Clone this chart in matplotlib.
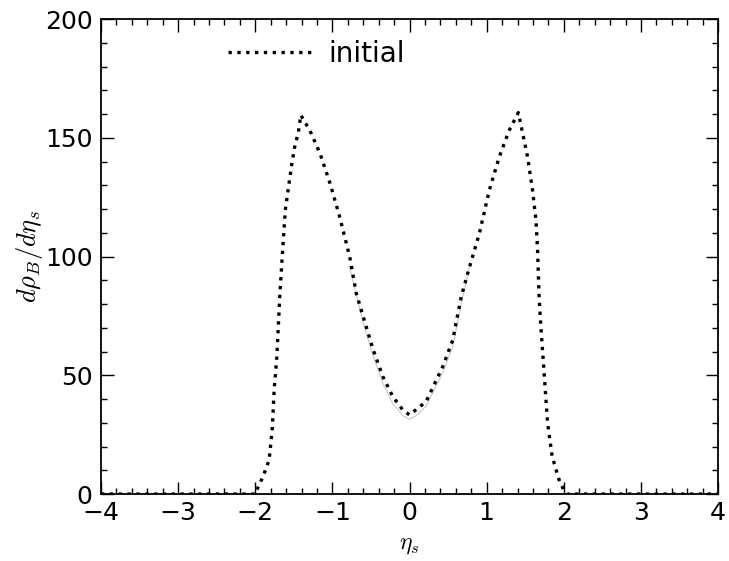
import matplotlib
matplotlib.use("Agg")
import matplotlib.pyplot as plt
from matplotlib.ticker import MultipleLocator

plt.rcParams['mathtext.fontset'] = 'cm'
plt.rcParams['font.family'] = ['DejaVu Sans']

# initial baryon rapidity distribution
eta_init = [-4.0, -2.0, -1.98, -1.90, -1.82, -1.78, -1.755, -1.72, -1.68, -1.65,
            -1.63, -1.61, -1.57, -1.53, -1.49, -1.44, -1.41, -1.29, -1.16, -1.03,
            -0.906, -0.776, -0.69, -0.60, -0.47, -0.345, -0.216, -0.087, 0.0,
            0.215, 0.43, 0.56, 0.67, 0.755, 0.906, 1.035, 1.164, 1.29, 1.41,
            1.466, 1.53, 1.595, 1.64, 1.66, 1.68, 1.70, 1.745, 1.79, 1.85, 1.94,
            2.0, 2.04, 4.0]
rho_init = [0.0, 0.0, 1.7, 7.3, 14.3, 27.0, 43.8, 57.8, 84.5, 100.0,
            110.0, 119.6, 129.0, 138.0, 146.0, 152.5, 159.6, 153.0, 143.4, 130.8,
            116.8, 100.0, 84.5, 74.6, 60.6, 49.4, 41.0, 35.4, 33.3,
            38.9, 53.6, 64.8, 83.0, 93.0, 109.8, 128.0, 142.0, 153.0, 160.6,
            152.0, 142.0, 128.0, 115.0, 102.7, 83.0, 71.9, 50.8, 29.8, 15.7, 5.9,
            1.7, 0.0, 0.0]

# faint evolved curve near the centre
eta_final = [-0.78, -0.6, -0.47, -0.345, -0.216, -0.087, 0.0, 0.087, 0.215, 0.43, 0.56, 0.67, 0.78]
rho_final = [96.0, 72.0, 58.0, 46.5, 38.0, 33.0, 31.5, 33.0, 37.0, 51.0, 62.0, 80.0, 96.0]

x_ticks = [-4, -3, -2, -1, 0, 1, 2, 3, 4]
y_ticks = [0, 50, 100, 150, 200]

fig = plt.figure(figsize=(7.29, 5.61), dpi=100)
ax = fig.add_axes([0.1385, 0.1194, 0.8465, 0.8466])

ax.plot(eta_final, rho_final, color='#c8c8c8', lw=0.8)
ax.plot(eta_init, rho_init, color='black', lw=2.4, ls=':', label='initial')

ax.set_xlim(-4, 4)
ax.set_ylim(0, 200)
ax.set_xticks(x_ticks)
ax.set_yticks(y_ticks)
ax.set_xticklabels([f"{t}".replace('-', '\u2212') for t in x_ticks])
ax.xaxis.set_minor_locator(MultipleLocator(0.2))
ax.yaxis.set_minor_locator(MultipleLocator(10))
ax.tick_params(which='both', direction='in', top=True, right=True, labelsize=18)
ax.tick_params(axis='x', pad=5)
ax.tick_params(axis='y', pad=6)
ax.tick_params(which='major', length=9, width=1.0)
ax.tick_params(which='minor', length=4.5, width=1.0)
for s in ax.spines.values():
    s.set_linewidth(1.3)

ax.set_xlabel(r'$\eta_s$', fontsize=17, labelpad=5)
ax.set_ylabel(r'$d\rho_B/d\eta_s$', fontsize=19, labelpad=0)

ax.legend(loc='center left', bbox_to_anchor=(0.206, 0.927), frameon=False,
          fontsize=20, handlelength=3.0, handletextpad=0.6,
          borderpad=0, borderaxespad=0)

fig.savefig('out.png', dpi=100)
